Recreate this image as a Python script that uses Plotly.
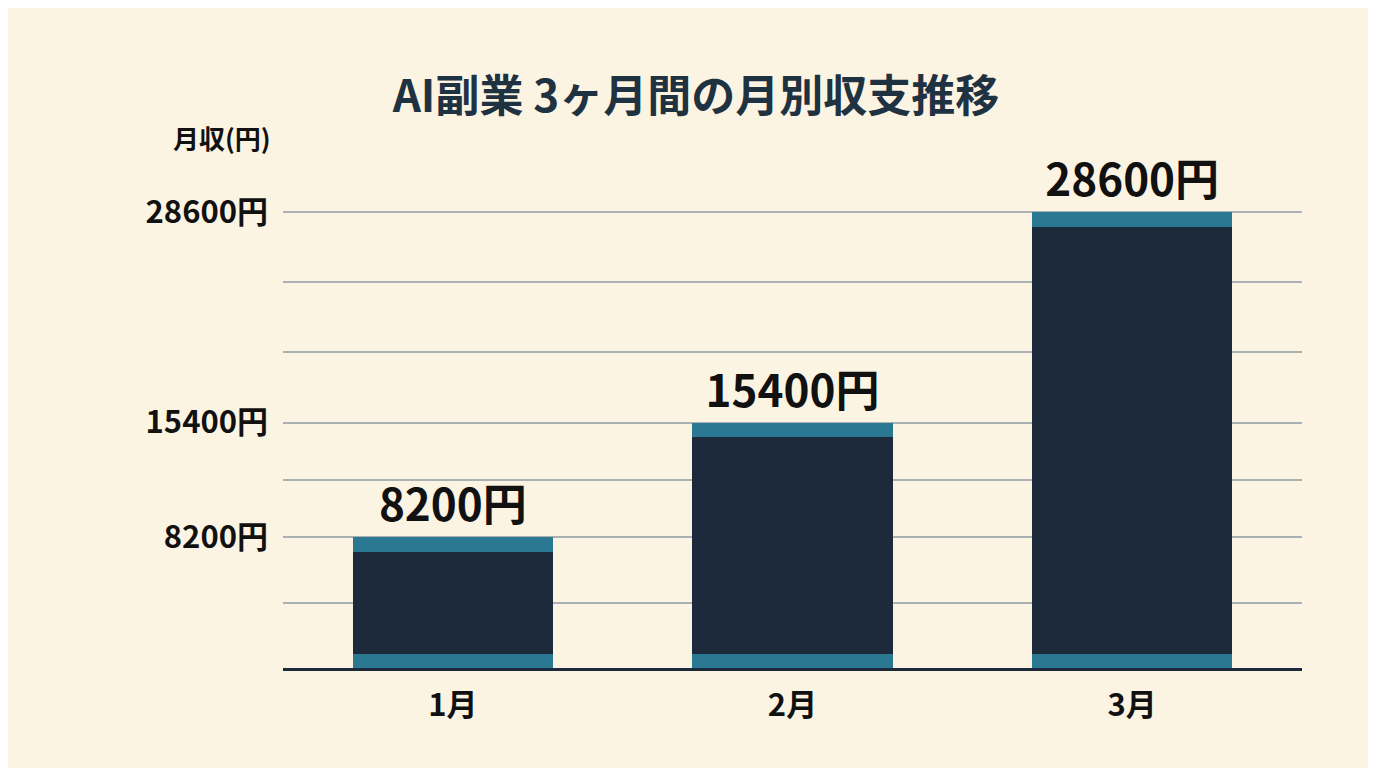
import plotly.graph_objects as go

months = ["1月", "2月", "3月"]
income = [8200, 15400, 28600]
tick_labels = ["8200円", "15400円", "28600円"]

BAND = 900  # teal strip thickness (yen units)
FONT = "Noto Sans CJK JP"

# extra unlabeled gridlines between the labelled ticks
grid_vals = [income[0] / 2, (income[0] + income[1]) / 2,
             income[1] + (income[2] - income[1]) / 3,
             income[1] + 2 * (income[2] - income[1]) / 3]
tickvals = income + grid_vals
ticktext = [f"<b>{t}</b>" for t in tick_labels] + [""] * len(grid_vals)

fig = go.Figure()
fig.add_bar(x=months, y=[BAND] * 3, marker_color="#2b7893", width=0.59)
fig.add_bar(x=months, y=[v - 2 * BAND for v in income], marker_color="#1c2a3b", width=0.59)
fig.add_bar(x=months, y=[BAND] * 3, marker_color="#2b7893", width=0.59,
            text=[f"<b>{v}円</b>" for v in income], textposition="outside",
            textfont=dict(size=44, color="#111111", family=FONT), cliponaxis=False)

fig.update_traces(marker_line_width=0)
fig.update_layout(
    barmode="stack",
    showlegend=False,
    width=1376, height=768,
    paper_bgcolor="#fcf4e3", plot_bgcolor="#fcf4e3",
    margin=dict(l=275, r=82, t=150, b=108),
    font=dict(family=FONT, color="#111111"),
    title=dict(text="<b>AI副業 3ヶ月間の月別収支推移</b>", x=0.5, y=0.885,
               xanchor="center", yanchor="middle",
               font=dict(size=44, color="#1f3242", family=FONT)),
    annotations=[dict(text="<b>月収(円)</b>", xref="paper", yref="paper",
                      x=-0.01, y=1.0, xanchor="right", yanchor="bottom",
                      showarrow=False, font=dict(size=26, color="#111111"))],
)
fig.update_yaxes(range=[0, 32000], tickvals=tickvals, ticktext=ticktext,
                 tickfont=dict(size=31, color="#111111", family=FONT),
                 gridcolor="#a9b1b4", gridwidth=2, zeroline=False,
                 showline=False, ticks="", ticklabelstandoff=14)
fig.update_xaxes(tickvals=months, ticktext=[f"<b>{m}</b>" for m in months],
                 tickfont=dict(size=31, color="#111111", family=FONT),
                 showline=True, linecolor="#1c2a3b", linewidth=3, ticks="",
                 ticklabelstandoff=8)

fig.write_html("out.html")
